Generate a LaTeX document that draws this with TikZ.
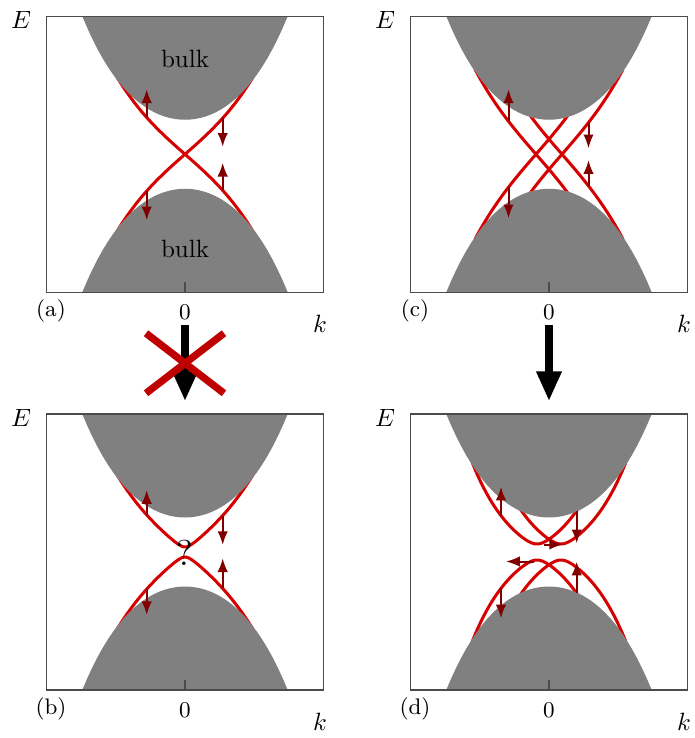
\documentclass[tikz,border=0pt]{standalone}
\usepackage{tikz}
\usetikzlibrary{arrows.meta}

\definecolor{edgered}{RGB}{214,0,0}
\definecolor{spinred}{RGB}{128,0,0}
\definecolor{crossred}{RGB}{190,0,0}

% clip to the part of a panel that lies outside both bulk bands
\newcommand{\gapclip}{%
  \clip (-1.385,1.38) -- plot[domain=-1.027:1.027,samples=41] (\x,{bulk(\x)})
    -- (1.385,1.38) -- (1.385,-1.38)
    -- plot[domain=1.027:-1.027,samples=41] (\x,{-bulk(\x)})
    -- (-1.385,-1.38) -- cycle;}

\begin{document}
\begin{tikzpicture}[
    x=40pt,y=40pt,
    declare function={bulk(\t)=0.345+0.77*\t*\t+0.2*\t*\t*\t*\t;
      ga(\t)=0.88*\t+0.55*\t*\t*\t;
      gc(\t)=1.15*\t+0.65*\t*\t*\t;
      gd(\t)=0.81*\t+1.35*\t*\t*\t;},
    frame/.style={draw=black!70,line width=0.5pt},
    bulkfill/.style={fill=black!50},
    edge/.style={edgered,line width=1.2pt},
    spin/.style={spinred,line width=0.8pt,-{Latex[length=5.5pt,width=4.2pt]}},
    bigarr/.style={line width=3.4pt,-{Triangle[length=12pt,width=9.5pt]}},
    cross/.style={crossred,line width=2.9pt}
]
\useasboundingbox (-1.85,1.5425) rectangle (5.10,-5.8375);

% panels: bulk bands, frame, axis labels
\foreach \p/\px/\py in {a/0/0,c/3.64/0,b/0/-3.9775,d/3.64/-3.9775}{
  \begin{scope}[shift={(\px,\py)}]
    \fill[bulkfill] plot[domain=-1.027:1.027,samples=41] (\x,{bulk(\x)}) -- cycle;
    \fill[bulkfill] plot[domain=-1.027:1.027,samples=41] (\x,{-bulk(\x)}) -- cycle;
    \draw[frame] (-1.385,-1.38) rectangle (1.385,1.38);
    \draw[frame] (0,-1.38) -- (0,-1.28);
    \node (E\p) at (-1.64,1.34) {$E$};
    \node (k\p) at (1.35,-1.70) {$k$};
    \node[font=\small] (zero\p) at (0,-1.58) {0};
    \node[font=\small] (lbl\p) at (-1.34,-1.57) {(\p)};
  \end{scope}
}

% (a) single crossing
\node (bulkup) at (0,0.95) {bulk};
\node (bulkdn) at (0,-0.95) {bulk};
\begin{scope}
  \gapclip
  \draw[edge] plot[domain=-0.75:0.75,samples=50] (\x,{ga(\x)});
  \draw[edge] plot[domain=-0.75:0.75,samples=50] (\x,{-ga(\x)});
\end{scope}
\draw[spin] (-0.383,{ga(0.383)}) -- (-0.383,0.65);
\draw[spin] (-0.383,{-ga(0.383)}) -- (-0.383,-0.66);
\draw[spin] (0.377,{ga(0.377)}) -- (0.377,0.075);
\draw[spin] (0.377,{-ga(0.377)}) -- (0.377,-0.085);

% (b) gapped
\begin{scope}[shift={(0,-3.9775)}]
  \begin{scope}
    \gapclip
    \draw[edge] plot[domain=-0.75:0.75,samples=60,smooth] (\x,{sqrt(0.0025+ga(\x)*ga(\x))});
    \draw[edge] plot[domain=-0.75:0.75,samples=60,smooth] (\x,{-sqrt(0.0025+ga(\x)*ga(\x))});
  \end{scope}
  \node[font=\Large] (quest) at (0,-0.01) {?};
  \draw[spin] (-0.383,{sqrt(0.0025+ga(0.383)*ga(0.383))}) -- (-0.383,0.62);
  \draw[spin] (-0.383,{-sqrt(0.0025+ga(0.383)*ga(0.383))}) -- (-0.383,-0.63);
  \draw[spin] (0.377,{sqrt(0.0025+ga(0.377)*ga(0.377))}) -- (0.377,0.07);
  \draw[spin] (0.377,{-sqrt(0.0025+ga(0.377)*ga(0.377))}) -- (0.377,-0.063);
\end{scope}

% (c) two crossings
\begin{scope}[shift={(3.64,0)}]
  \begin{scope}
    \gapclip
    \foreach \s in {1,-1}{
      \draw[edge] plot[domain=-0.74:0.9,samples=60] (\x,{\s*gc(\x+0.13)});
      \draw[edge] plot[domain=-0.9:0.74,samples=60] (\x,{\s*gc(\x-0.13)});
    }
  \end{scope}
  \draw[spin] (-0.405,{gc(0.275)}) -- (-0.405,0.65);
  \draw[spin] (-0.405,{-gc(0.275)}) -- (-0.405,-0.64);
  \draw[spin] (0.395,{gc(0.265)}) -- (0.395,0.06);
  \draw[spin] (0.395,{-gc(0.265)}) -- (0.395,-0.058);
\end{scope}

% (d) two gapped pairs
\begin{scope}[shift={(3.64,-3.9775)}]
  \begin{scope}
    \gapclip
    \foreach \s in {1,-1}{
      \foreach \d/\lo/\hi in {0.12/-0.8/0.75,-0.12/-0.75/0.8}{
        \draw[edge] plot[domain=\lo:\hi,samples=80,smooth] (\x,{\s*sqrt(0.0064+gd(\x+\d)*gd(\x+\d))});
      }
    }
  \end{scope}
  \draw[spin] (-0.48,{sqrt(0.0064+gd(0.36)*gd(0.36))}) -- (-0.48,0.653);
  \draw[spin] (-0.48,{-sqrt(0.0064+gd(0.36)*gd(0.36))}) -- (-0.48,-0.663);
  \draw[spin] (0.277,{sqrt(0.0064+gd(0.397)*gd(0.397))}) -- (0.277,0.087);
  \draw[spin] (0.277,{-sqrt(0.0064+gd(0.397)*gd(0.397))}) -- (0.277,-0.097);
  \draw[spin] (-0.05,0.075) -- (0.14,0.075);
  \draw[spin] (-0.15,-0.095) -- (-0.43,-0.095);
\end{scope}

% transitions between panels
\coordinate (abtop) at (0,-1.7075);
\coordinate (abtip) at (0,-2.47);
\coordinate (cdtop) at (3.64,-1.7075);
\coordinate (cdtip) at (3.64,-2.47);
\draw[bigarr] (abtop) -- (abtip);
\draw[bigarr] (cdtop) -- (cdtip);
\draw[cross] (-0.39,-1.79) -- (0.39,-2.39);
\draw[cross] (-0.39,-2.39) -- (0.39,-1.79);
\end{tikzpicture}
\end{document}
